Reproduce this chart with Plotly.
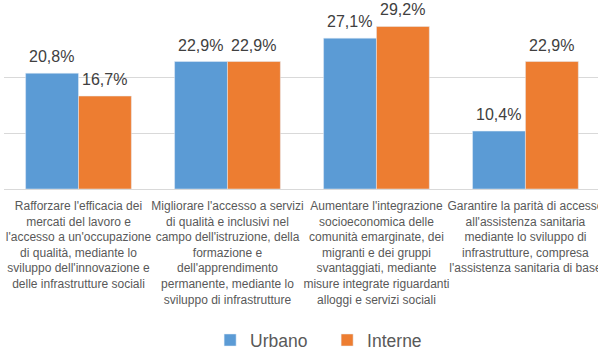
import plotly.graph_objects as go

categories = [
    "Rafforzare l'efficacia dei<br>mercati del lavoro e<br>l'accesso a un'occupazione<br>di qualità, mediante lo<br>sviluppo dell'innovazione e<br>delle infrastrutture sociali",
    "Migliorare l'accesso a servizi<br>di qualità e inclusivi nel<br>campo dell'istruzione, della<br>formazione e<br>dell'apprendimento<br>permanente, mediante lo<br>sviluppo di infrastrutture",
    "Aumentare l'integrazione<br>socioeconomica delle<br>comunità emarginate, dei<br>migranti e dei gruppi<br>svantaggiati, mediante<br>misure integrate riguardanti<br>alloggi e servizi sociali",
    "Garantire la parità di accesso<br>all'assistenza sanitaria<br>mediante lo sviluppo di<br>infrastrutture, compresa<br>l'assistenza sanitaria di base",
]
urbano = [20.8, 22.9, 27.1, 10.4]
interne = [16.7, 22.9, 29.2, 22.9]

BLUE = "#5B9BD5"
ORANGE = "#ED7D31"
FONT = "Liberation Sans"
BAR_PX = 26.5  # half the slot of one category occupied by each bar, in pixels


def pct(v):
    return f"{v:.1f}%".replace(".", ",")


fig = go.Figure()
series = [("Urbano", urbano, BLUE, -BAR_PX), ("Interne", interne, ORANGE, BAR_PX)]
for name, vals, col, shift in series:
    fig.add_trace(go.Bar(name=name, x=categories, y=vals, marker_color=col))
    # value labels sitting a little above each bar
    for cat, v in zip(categories, vals):
        fig.add_annotation(
            x=cat, y=v, text=pct(v), showarrow=False,
            xanchor="center", yanchor="bottom", xshift=shift, yshift=6,
            font=dict(family=FONT, size=16, color="#404040"),
        )

fig.update_layout(
    width=598, height=349,
    margin=dict(l=4, r=0, t=22, b=160, autoexpand=False),
    paper_bgcolor="white", plot_bgcolor="white",
    barmode="group", bargap=0.29, bargroupgap=0,
    font=dict(family=FONT, color="#595959"),
    showlegend=True,
    legend=dict(orientation="h", x=0.347, xanchor="left", y=-0.905, yanchor="middle",
                itemwidth=30, entrywidth=72, bgcolor="rgba(0,0,0,0)",
                font=dict(family=FONT, size=17.5, color="#595959")),
)
fig.update_xaxes(range=[-0.5, 3.487], tickfont=dict(family=FONT, size=12, color="#595959"),
                 tickangle=0, automargin=False,
                 showgrid=False, ticks="", ticklabelstandoff=8)
fig.update_yaxes(range=[0, 30], dtick=10, showticklabels=False, gridcolor="#D9D9D9",
                 zeroline=True, zerolinecolor="#D9D9D9", zerolinewidth=1)

fig.write_html("out.html")
